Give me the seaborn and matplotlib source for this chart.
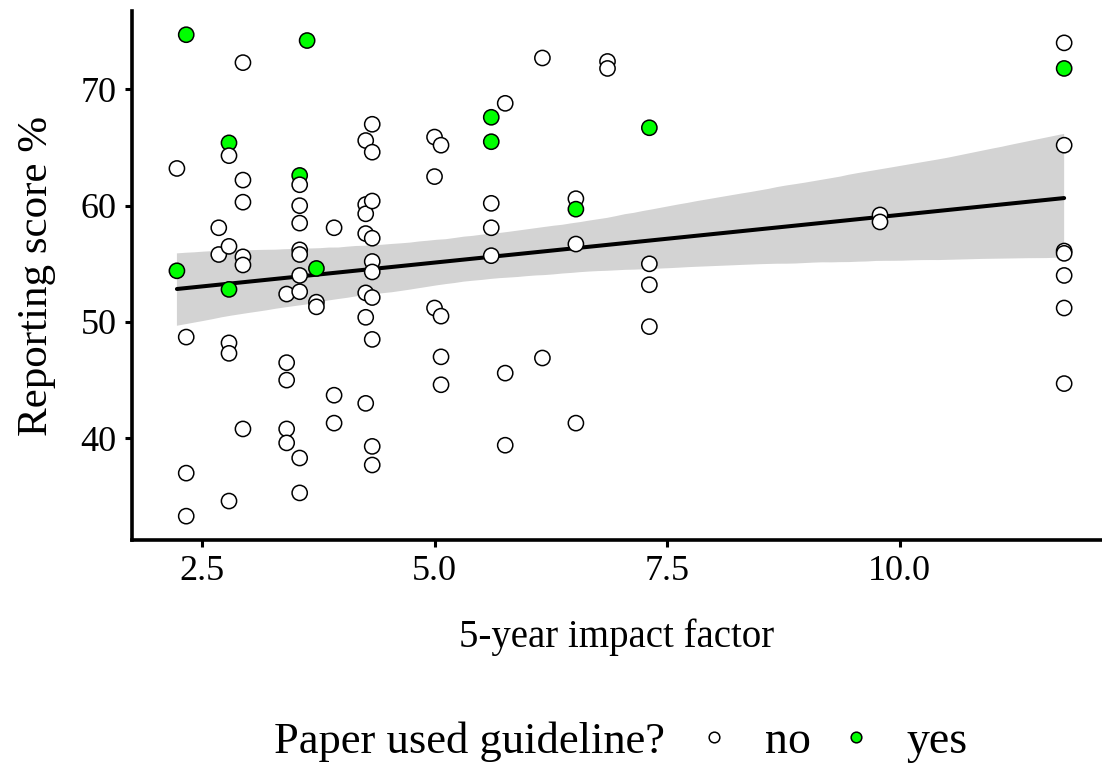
import pandas as pd
import seaborn as sns
import matplotlib.pyplot as plt

# 5-year impact factor of the journal, one entry per paper
impact_factor = [
    2.23, 2.23,
    2.33, 2.33, 2.33, 2.33,
    2.68, 2.68,
    2.79, 2.79, 2.79, 2.79, 2.79, 2.79, 2.79,
    2.94, 2.94, 2.94, 2.94, 2.94, 2.94,
    3.41, 3.41, 3.41, 3.41, 3.41,
    3.55, 3.55, 3.55, 3.55, 3.55, 3.55, 3.55, 3.55, 3.55, 3.55,
    3.63,
    3.73, 3.73, 3.73,
    3.92, 3.92, 3.92,
    4.26, 4.26, 4.26, 4.26, 4.26, 4.26, 4.26,
    4.33, 4.33, 4.33, 4.33, 4.33, 4.33, 4.33, 4.33, 4.33, 4.33,
    5.00, 5.00, 5.00,
    5.07, 5.07, 5.07, 5.07,
    5.61, 5.61, 5.61, 5.61, 5.61,
    5.76, 5.76, 5.76,
    6.16, 6.16,
    6.52, 6.52, 6.52, 6.52,
    6.86, 6.86,
    7.31, 7.31, 7.31, 7.31,
    9.79, 9.79,
    11.77, 11.77, 11.77, 11.77, 11.77, 11.77, 11.77, 11.77,
]

# reporting score in percent
score = [
    63.2, 54.4,
    74.7, 48.7, 37.0, 33.3,
    58.1, 55.8,
    65.4, 64.3, 56.5, 52.8, 48.2, 47.3, 34.6,
    72.3, 62.2, 60.3, 55.6, 54.9, 40.8,
    52.4, 46.5, 45.0, 40.8, 39.6,
    62.6, 61.8, 60.0, 58.5, 56.2, 55.8, 54.0, 52.6, 38.3, 35.3,
    74.2,
    54.6, 51.7, 51.3,
    58.1, 43.7, 41.3,
    65.6, 60.1, 59.3, 57.6, 52.5, 50.4, 43.0,
    67.0, 64.6, 60.4, 57.2, 55.2, 54.3, 52.1, 48.5, 39.3, 37.7,
    65.9, 62.5, 51.2,
    65.2, 50.5, 47.0, 44.6,
    67.6, 65.5, 60.2, 58.1, 55.7,
    68.8, 45.6, 39.4,
    72.7, 46.9,
    60.6, 59.7, 56.7, 41.3,
    72.4, 71.8,
    66.7, 55.0, 53.2, 49.6,
    59.2, 58.6,
    74.0, 71.8, 65.2, 56.1, 55.9, 54.0, 51.2, 44.7,
]

# did the paper use a reporting guideline?
used_guideline = [
    "no", "yes",
    "yes", "no", "no", "no",
    "no", "no",
    "yes", "no", "no", "yes", "no", "no", "no",
    "no", "no", "no", "no", "no", "no",
    "no", "no", "no", "no", "no",
    "yes", "no", "no", "no", "no", "no", "no", "no", "no", "no",
    "yes",
    "yes", "no", "no",
    "no", "no", "no",
    "no", "no", "no", "no", "no", "no", "no",
    "no", "no", "no", "no", "no", "no", "no", "no", "no", "no",
    "no", "no", "no",
    "no", "no", "no", "no",
    "yes", "yes", "no", "no", "no",
    "no", "no", "no",
    "no", "no",
    "no", "yes", "no", "no",
    "no", "no",
    "yes", "no", "no", "no",
    "no", "no",
    "no", "yes", "no", "no", "no", "no", "no", "no",
]

x_ticks = [2.5, 5.0, 7.5, 10.0]
x_tick_labels = ["2.5", "5.0", "7.5", "10.0"]
y_ticks = [40, 50, 60, 70]

df = pd.DataFrame({"impact": impact_factor, "score": score, "used": used_guideline})

sns.set_theme(style="ticks")
plt.rcParams['font.family'] = ['Liberation Serif', 'DejaVu Serif']
plt.rcParams['text.color'] = 'black'
plt.rcParams['axes.labelcolor'] = 'black'

W, H = 1102, 763
fig = plt.figure(figsize=(W / 100, H / 100), dpi=100)
ax = fig.add_axes([132 / W, (H - 540) / H, (W - 132) / W, (540 - 11) / H])

# linear fit with confidence band
sns.regplot(data=df, x="impact", y="score", scatter=False, color="black",
            line_kws={"linewidth": 2.9}, seed=1, ax=ax)
for coll in ax.collections:
    coll.set_facecolor("#D3D3D3")
    coll.set_alpha(1)
    coll.set_edgecolor("none")

sns.scatterplot(data=df, x="impact", y="score", hue="used", hue_order=["no", "yes"],
                palette={"no": "white", "yes": "#00FF00"}, s=120,
                edgecolor="black", linewidth=1.1, zorder=3, ax=ax)

ax.set_xlim(1.747, 12.177)
ax.set_ylim(31.25, 76.74)
ax.set_xticks(x_ticks)
ax.set_xticklabels(x_tick_labels)
ax.set_yticks(y_ticks)
ax.tick_params(width=2.2, length=5, labelsize=26, pad=6, colors="black")
for side in ["left", "bottom"]:
    ax.spines[side].set_linewidth(2.6)
    ax.spines[side].set_color("black")
sns.despine(ax=ax)

ax.set_xlabel("5-year impact factor", fontsize=28, labelpad=22)
ax.set_ylabel("Reporting score %", fontsize=31, labelpad=18)

handles, labels = ax.get_legend_handles_labels()
ax.get_legend().remove()
fig.legend(handles, labels, loc="center left", bbox_to_anchor=(650 / W, 1 - 742 / H),
           ncol=2, frameon=False, fontsize=33, markerscale=0.7,
           handletextpad=0.6, columnspacing=0.5, handlelength=1.0)
fig.text(665 / W, 1 - 742 / H, "Paper used guideline?", ha="right", va="center", fontsize=32)

fig.savefig("out.png", dpi=100)
